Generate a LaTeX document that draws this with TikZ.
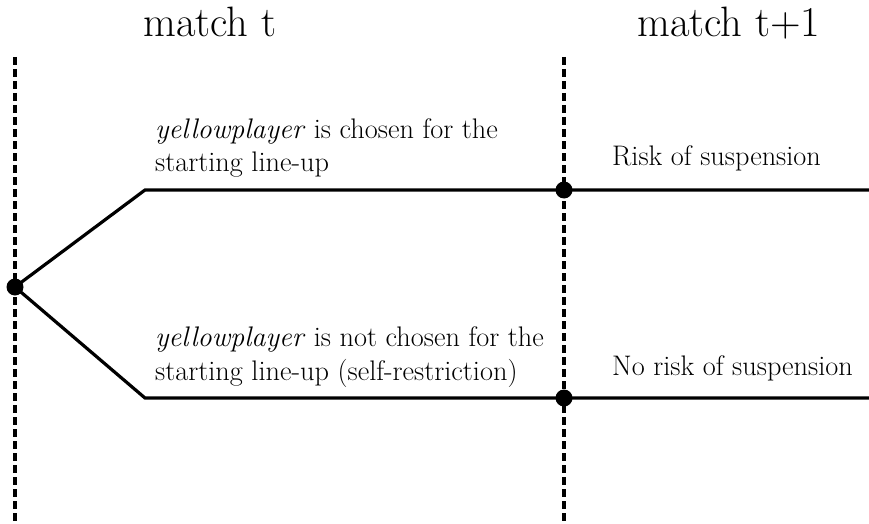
\documentclass[tikz,border=0pt]{standalone}
\begin{document}
\begin{tikzpicture}[x=1pt,y=-1pt,
  branch/.style={line width=3.2pt, line join=miter},
  timeline/.style={line width=3.4pt, dash pattern=on 8pt off 4pt},
  dot/.style={circle, fill=black, inner sep=0pt, minimum size=17pt},
  lbl/.style={anchor=base west, inner sep=0pt, font=\fontsize{28.3}{33}\selectfont},
  ttl/.style={anchor=base west, inner sep=0pt, font=\fontsize{42.5}{48}\selectfont}]
\useasboundingbox (0,0) rectangle (869,524);
% time lines
\coordinate (L0) at (15,57);  \coordinate (L1) at (15,524);
\coordinate (M0) at (564,57); \coordinate (M1) at (564,524);
\draw[timeline] (L0) -- (L1);
\draw[timeline] (M0) -- (M1);
% branch points
\coordinate (r) at (15,287);
\coordinate (ua) at (145,190); \coordinate (um) at (564,190); \coordinate (ue) at (869,190);
\coordinate (la) at (145,398); \coordinate (lm) at (564,398); \coordinate (le) at (869,398);
\draw[branch] (r) -- (ua) -- (um) -- (ue);
\draw[branch] (r) -- (la) -- (lm) -- (le);
\node[dot] (root) at (r) {};
\node[dot] (upm) at (um) {};
\node[dot] (lowm) at (lm) {};
% titles
\node[ttl] (tt) at (143,37) {match t};
\node[ttl] (tt1) at (637,37) {match t+1};
% labels
\node[lbl] (ua1) at (155,138) {\textit{yellowplayer} is chosen for the};
\node[lbl] (ua2) at (155,171) {starting line-up};
\node[lbl] (la1) at (155,346) {\textit{yellowplayer} is not chosen for the};
\node[lbl] (la2) at (155,380) {starting line-up (self-restriction)};
\node[lbl] (ur) at (612,165) {Risk of suspension};
\node[lbl] (lr) at (612,375) {No risk of suspension};
\end{tikzpicture}
\end{document}
